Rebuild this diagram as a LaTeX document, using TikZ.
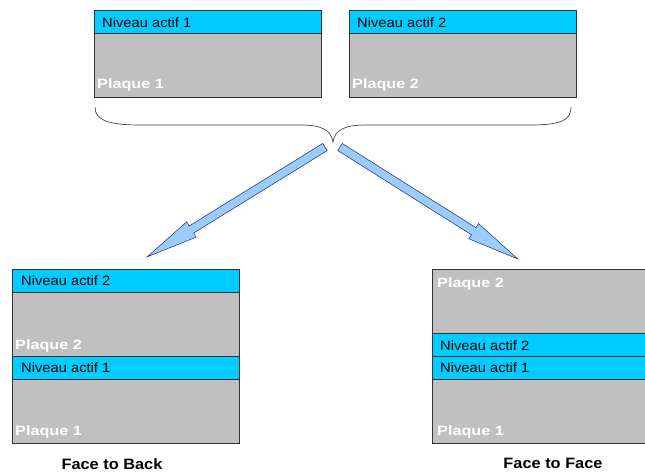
\documentclass[tikz,border=0pt]{standalone}
\usepackage{fontspec}
\setmainfont{Liberation Sans}
\newfontfamily\fa[FakeStretch=1.09]{Liberation Sans}
\newfontfamily\fb[FakeStretch=1.2]{Liberation Sans}
\definecolor{actif}{HTML}{00CCFF}
\definecolor{plaque}{HTML}{C0C0C0}
\definecolor{arrowfill}{HTML}{99CCFF}
\definecolor{edge}{HTML}{333333}
\tikzset{
  band/.style={draw=edge, line width=0.8pt, fill=#1, inner sep=0pt, anchor=north west},
  niv/.style={anchor=base west, inner sep=0pt, font=\fa\fontsize{13.5pt}{15pt}\selectfont, text=black},
  plq/.style={anchor=base west, inner sep=0pt, font=\fb\bfseries\fontsize{13.5pt}{15pt}\selectfont, text=white},
  captxt/.style={anchor=base, inner sep=0pt, font=\fa\bfseries\fontsize{15pt}{17pt}\selectfont, text=black},
  blockarrow/.style={draw=edge!80!blue, line width=0.5pt, fill=arrowfill, line join=miter},
  bracestyle/.style={draw=edge!90, line width=0.7pt}
}
\begin{document}
\begin{tikzpicture}[x=1pt,y=-1pt]
\clip (0,0) rectangle (645,472);
\useasboundingbox (0,0) rectangle (645,472);
% top left
\path[band=actif] (94,10) rectangle (321,33);
\path[band=plaque] (94,33) rectangle (321,97);
\node[niv] (t1n) at (102,27) {Niveau actif 1};
\node[plq] (t1p) at (97,88) {Plaque 1};
% top right
\path[band=actif] (349,10) rectangle (576,33);
\path[band=plaque] (349,33) rectangle (576,97);
\node[niv] (t2n) at (357,27) {Niveau actif 2};
\node[plq] (t2p) at (352,88) {Plaque 2};
% brace
\draw[bracestyle] (95,107) .. controls (95,120) and (108,125) .. (140,125) -- (300,125)
  .. controls (322,125) and (331,130) .. (333,142)
  .. controls (335,130) and (344,125) .. (366,125) -- (530,125)
  .. controls (562,125) and (571,120) .. (571,107);
% arrows
\begin{scope}[shift={(325,147)}, rotate=-148.3]
\draw[blockarrow] (0pt,4.2pt) -- (157pt,4.2pt) -- (157pt,9pt) -- (209pt,0pt) -- (157pt,-9pt) -- (157pt,-4.2pt) -- (0pt,-4.2pt) -- cycle;
\end{scope}
\begin{scope}[shift={(340,147)}, rotate=-32.2]
\draw[blockarrow] (0pt,4.2pt) -- (158pt,4.2pt) -- (158pt,9pt) -- (210pt,0pt) -- (158pt,-9pt) -- (158pt,-4.2pt) -- (0pt,-4.2pt) -- cycle;
\end{scope}
% bottom left
\path[band=actif] (12,269) rectangle (239,292);
\path[band=plaque] (12,292) rectangle (239,356);
\path[band=actif] (12,356) rectangle (239,379);
\path[band=plaque] (12,379) rectangle (239,443);
\node[niv] (b1n2) at (21,285) {Niveau actif 2};
\node[plq] (b1p2) at (15,349) {Plaque 2};
\node[niv] (b1n1) at (21,372) {Niveau actif 1};
\node[plq] (b1p1) at (15,435) {Plaque 1};
\node[captxt] (ftb) at (112,469) {Face to Back};
% bottom right
\path[band=plaque] (432,269) rectangle (660,333);
\path[band=actif] (432,333) rectangle (660,356);
\path[band=actif] (432,356) rectangle (660,379);
\path[band=plaque] (432,379) rectangle (660,443);
\node[plq] (b2p2) at (437,287) {Plaque 2};
\node[niv] (b2n2) at (440,350) {Niveau actif 2};
\node[niv] (b2n1) at (440,372) {Niveau actif 1};
\node[plq] (b2p1) at (437,435) {Plaque 1};
\node[captxt] (ftf) at (553,468) {Face to Face};
\end{tikzpicture}
\end{document}
